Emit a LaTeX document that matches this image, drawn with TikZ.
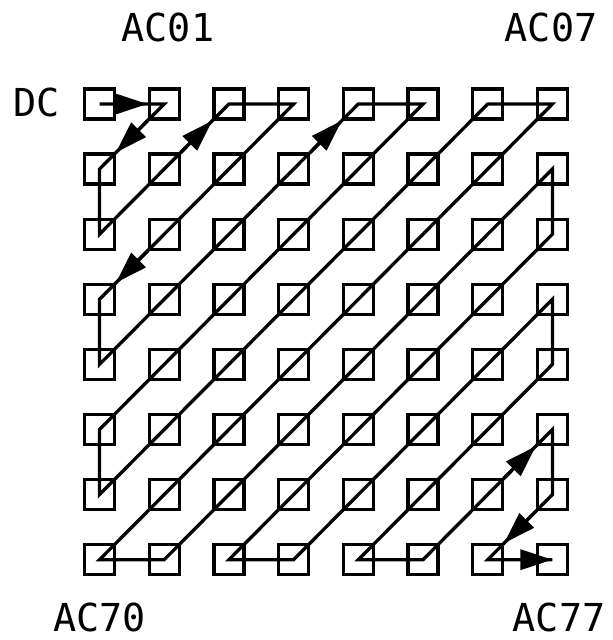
\documentclass[tikz,border=0pt]{standalone}
\usepackage{fontspec}
\setmonofont{DejaVu Sans Mono}
\usepackage{tikz}
\usetikzlibrary{arrows.meta}

\tikzset{
  cell/.style={draw,minimum size=30pt,inner sep=0pt,line width=3.3pt},
  scan/.style={line width=3.3pt},
  scanarrow/.style={line width=3.3pt,-{Triangle[length=32pt,width=20pt]}},
  coef/.style={inner sep=0pt,font=\ttfamily\fontsize{38.5}{40}\selectfont}
}

\begin{document}
\begin{tikzpicture}[x=1pt,y=-1pt]
\useasboundingbox (0,0) rectangle (613,640);
% 8x8 block of coefficients
\foreach \r in {0,...,7}
  \foreach \c in {0,...,7}
    \node[cell] (c\r\c) at ({99.5+64.7*\c},{104+65.1*\r}) {};
\node[coef] (dc) at (37,102) {DC};
\node[coef] (ac01) at (168,27) {AC01};
\node[coef] (ac07) at (551,27) {AC07};
\node[coef] (ac70) at (99.5,617) {AC70};
\node[coef] (ac77) at (559,617) {AC77};
% zigzag scan
\draw[scan] (c00.center) -- (c01.center) -- (c10.center) -- (c20.center)
  -- (c02.center) -- (c03.center) -- (c30.center) -- (c40.center)
  -- (c04.center) -- (c05.center) -- (c50.center) -- (c60.center)
  -- (c06.center) -- (c07.center) -- (c70.center) -- (c71.center)
  -- (c17.center) -- (c27.center) -- (c72.center) -- (c73.center)
  -- (c37.center) -- (c47.center) -- (c74.center) -- (c75.center)
  -- (c57.center) -- (c67.center) -- (c76.center) -- (c77.center);
\draw[scanarrow] (c00) -- (c01);
\draw[scanarrow] (c01) -- (c10);
\draw[scanarrow] (c11) -- (c02);
\draw[scanarrow] (c21) -- (c30);
\draw[scanarrow] (c13) -- (c04);
\draw[scanarrow] (c66) -- (c57);
\draw[scanarrow] (c67) -- (c76);
\draw[scanarrow] (c76) -- (c77.center);
\end{tikzpicture}
\end{document}
